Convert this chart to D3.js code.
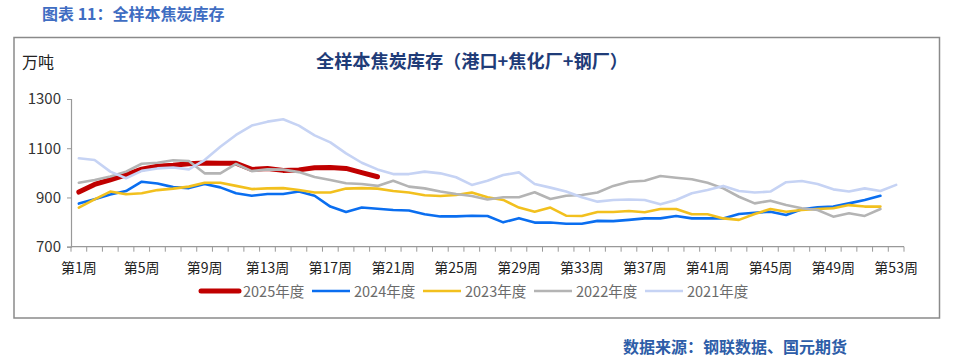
<!DOCTYPE html>
<html><head><meta charset="utf-8">
<script src="https://cdn.jsdelivr.net/npm/d3@7"></script>
<style>
html,body{margin:0;padding:0;background:#fff;}
svg{display:block;}
text{font-family:"Noto Sans CJK SC","Noto Sans",sans-serif;}
</style></head>
<body><svg id="c" width="958" height="364"></svg>
<script>
const weeks = d3.range(1, 54);
const labelWeeks = [1,5,9,13,17,21,25,29,33,37,41,45,49,53];
const yTicks = [700, 900, 1100, 1300];
const seriesNames = ["2025年度","2024年度","2023年度","2022年度","2021年度"];
const s2025 = [922,953,972,992,1015,1027,1031,1037,1040,1039,1039,1014,1018,1010,1012,1021,1022,1018,1001,984];
const s2024 = [875,893,912,926,964,957,942,938,955,941,917,907,914,914,924,907,863,841,859,854,849,847,832,823,823,826,825,799,816,798,798,793,793,805,804,809,815,815,825,815,815,815,833,838,842,829,852,860,863,876,890,907];
const s2023 = [859,892,924,913,917,930,936,944,960,960,947,934,937,938,930,920,920,936,938,936,926,920,909,906,910,920,901,890,859,842,859,826,825,841,841,845,840,853,853,832,832,815,809,833,853,842,849,853,856,869,863,863];
const s2022 = [960,971,985,1005,1037,1041,1051,1048,998,998,1036,1007,1014,1013,1003,983,971,958,955,947,968,944,937,924,914,906,892,901,901,921,894,907,910,920,947,964,968,987,980,974,960,937,903,876,887,869,856,849,822,836,825,853];
const s2021 = [1059,1052,1005,978,1008,1018,1022,1014,1052,1106,1154,1192,1208,1218,1192,1152,1124,1079,1041,1014,995,995,1005,998,982,951,968,991,1002,955,940,924,901,883,890,892,890,872,890,917,930,947,926,920,924,962,967,955,933,924,937,926,951];
const seriesData = [s2025, s2024, s2023, s2022, s2021];
const colors = ["#C00000","#0A6EF0","#F2C01E","#B4B4B4","#C6D3F4"];
const widths = [5, 2.6, 2.6, 2.6, 2.6];

const svg = d3.select("#c");

// header
svg.append("text").attr("x", 42).attr("y", 20).attr("fill", "#3F6DC2")
  .attr("font-size", 16).attr("font-weight", "bold").text("图表 11：全样本焦炭库存");

// frame
svg.append("rect").attr("x", 14).attr("y", 37.5).attr("width", 925.5).attr("height", 280.5)
  .attr("fill", "none").attr("stroke", "#8a8a8a").attr("stroke-width", 1.5);

// title
svg.append("text").attr("x", 472).attr("y", 68).attr("text-anchor", "middle")
  .attr("fill", "#1F3C78").attr("font-size", 18).attr("font-weight", "bold")
  .attr("textLength", 312).attr("lengthAdjust", "spacingAndGlyphs")
  .text("全样本焦炭库存（港口+焦化厂+钢厂）");

svg.append("text").attr("x", 22).attr("y", 68).attr("fill", "#222")
  .attr("font-size", 16).text("万吨");

const x = d3.scaleBand().domain(weeks).range([71, 904]).padding(0);
const y = d3.scaleLinear().domain([700, 1300]).range([246.7, 99]);
const bw = x.bandwidth();

// y axis
const ya = svg.append("g").attr("transform", "translate(71,0)")
  .call(d3.axisLeft(y).tickValues(yTicks).tickSize(4).tickPadding(6).tickFormat(d3.format("d")));
ya.select(".domain").attr("stroke", "#999").attr("stroke-width", 1.2);
ya.selectAll(".tick line").attr("stroke", "#999");
ya.selectAll("text").attr("font-family", "'Liberation Sans',sans-serif").attr("font-size", 15).attr("fill", "#333");

// x axis baseline and ticks at band boundaries
const xg = svg.append("g");
xg.append("line").attr("x1", 71).attr("x2", 904).attr("y1", y(700)).attr("y2", y(700))
  .attr("stroke", "#999").attr("stroke-width", 1.2);
const bounds = weeks.map(w => x(w)).concat([x(53) + bw]);
xg.selectAll(".tk").data(bounds).enter().append("line")
  .attr("x1", d => d).attr("x2", d => d).attr("y1", y(700)).attr("y2", y(700) + 5)
  .attr("stroke", "#999").attr("stroke-width", 1);
xg.selectAll(".lb").data(labelWeeks).enter().append("text")
  .attr("x", d => x(d) + bw / 2).attr("y", 273).attr("text-anchor", "middle")
  .attr("font-size", 14).attr("fill", "#222").text(d => "第" + d + "周");

// lines
const line = d3.line().x((d, i) => x(weeks[i]) + bw / 2).y(d => y(d)).curve(d3.curveLinear);
const order = [0, 1, 2, 3, 4];
order.forEach(k => {
  svg.append("path").datum(seriesData[k]).attr("d", line)
    .attr("fill", "none").attr("stroke", colors[k]).attr("stroke-width", widths[k])
    .attr("stroke-linejoin", "round").attr("stroke-linecap", "round");
});

// legend
const lg = svg.append("g");
seriesNames.forEach((n, k) => {
  const x0 = 201 + k * 111;
  lg.append("line").attr("x1", x0).attr("x2", x0 + 38).attr("y1", 291).attr("y2", 291)
    .attr("stroke", colors[k]).attr("stroke-width", k === 0 ? 5 : 2.6)
    .attr("stroke-linecap", k === 0 ? "round" : "butt");
  lg.append("text").attr("x", x0 + 42).attr("y", 296.5).attr("font-size", 14.5)
    .attr("fill", "#6b6b6b").text(n);
});

// source
svg.append("text").attr("x", 623).attr("y", 353).attr("fill", "#2D5DA8")
  .attr("font-size", 16).attr("font-weight", "bold").text("数据来源：钢联数据、国元期货");
</script>
</body></html>
